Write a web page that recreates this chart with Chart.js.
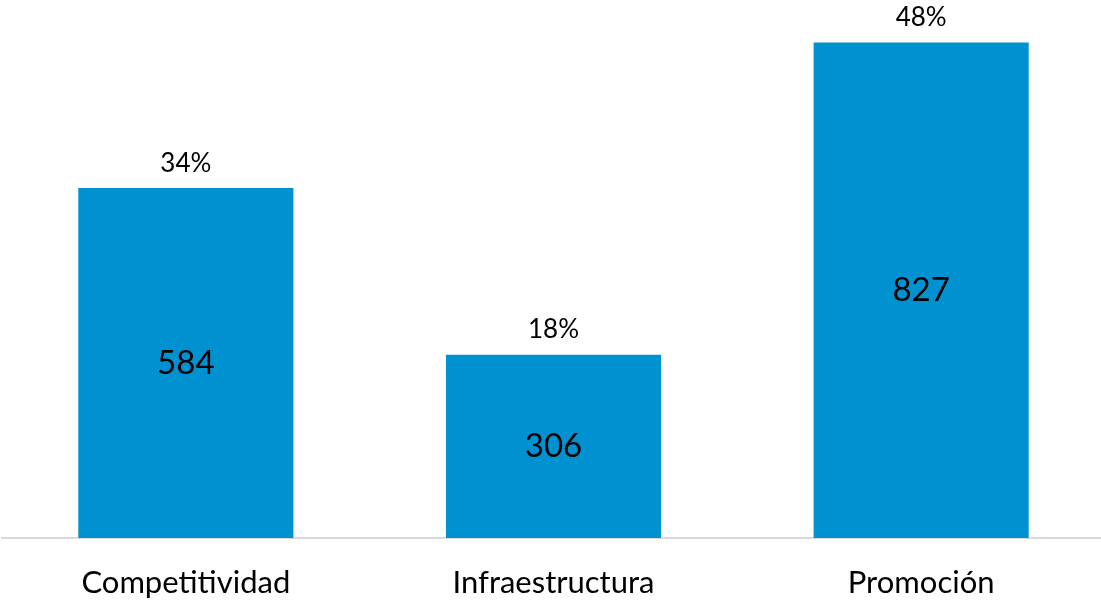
<!DOCTYPE html>
<html>
<head>
<meta charset="utf-8">
<script src="https://cdn.jsdelivr.net/npm/chart.js@4"></script>
<style>
  html, body { margin: 0; padding: 0; background: #fff; overflow: hidden; }
  #wrap { width: 1105px; height: 601px; }
</style>
</head>
<body>
<div id="wrap"><canvas id="barChart"></canvas></div>
<script>
const categories = ['Competitividad', 'Infraestructura', 'Promoción'];
const values = [584, 306, 827];
const shares = ['34%', '18%', '48%'];

const FONT = 'Lato, "Open Sans", sans-serif';

// labels: number inside the bar, share above it
const barLabels = {
  id: 'barLabels',
  afterDatasetsDraw(chart) {
    const { ctx } = chart;
    const meta = chart.getDatasetMeta(0);
    ctx.save();
    ctx.fillStyle = '#000';
    ctx.textAlign = 'center';
    ctx.textBaseline = 'middle';
    meta.data.forEach((bar, i) => {
      ctx.font = '33px ' + FONT;
      ctx.fillText(values[i], bar.x, (bar.y + bar.base) / 2);
      ctx.font = '26px ' + FONT;
      ctx.fillText(shares[i], bar.x, bar.y - 25);
    });
    ctx.restore();
  }
};

new Chart(document.getElementById('barChart'), {
  type: 'bar',
  data: {
    labels: categories,
    datasets: [{
      data: values,
      backgroundColor: '#0092D0',
      barPercentage: 0.585,
      categoryPercentage: 1
    }]
  },
  options: {
    responsive: true,
    maintainAspectRatio: false,
    animation: false,
    layout: { padding: { left: 2, right: 0, top: 0, bottom: 0 } },
    plugins: { legend: { display: false }, tooltip: { enabled: false } },
    scales: {
      x: {
        grid: { display: false },
        border: { display: true, color: '#D9D9D9', width: 2 },
        ticks: { color: '#000', padding: 18, font: { family: FONT, size: 31 } },
        afterFit(scale) { scale.height = 63; }
      },
      y: {
        display: false,
        min: 0,
        max: 898
      }
    }
  },
  plugins: [barLabels]
});
</script>
</body>
</html>
